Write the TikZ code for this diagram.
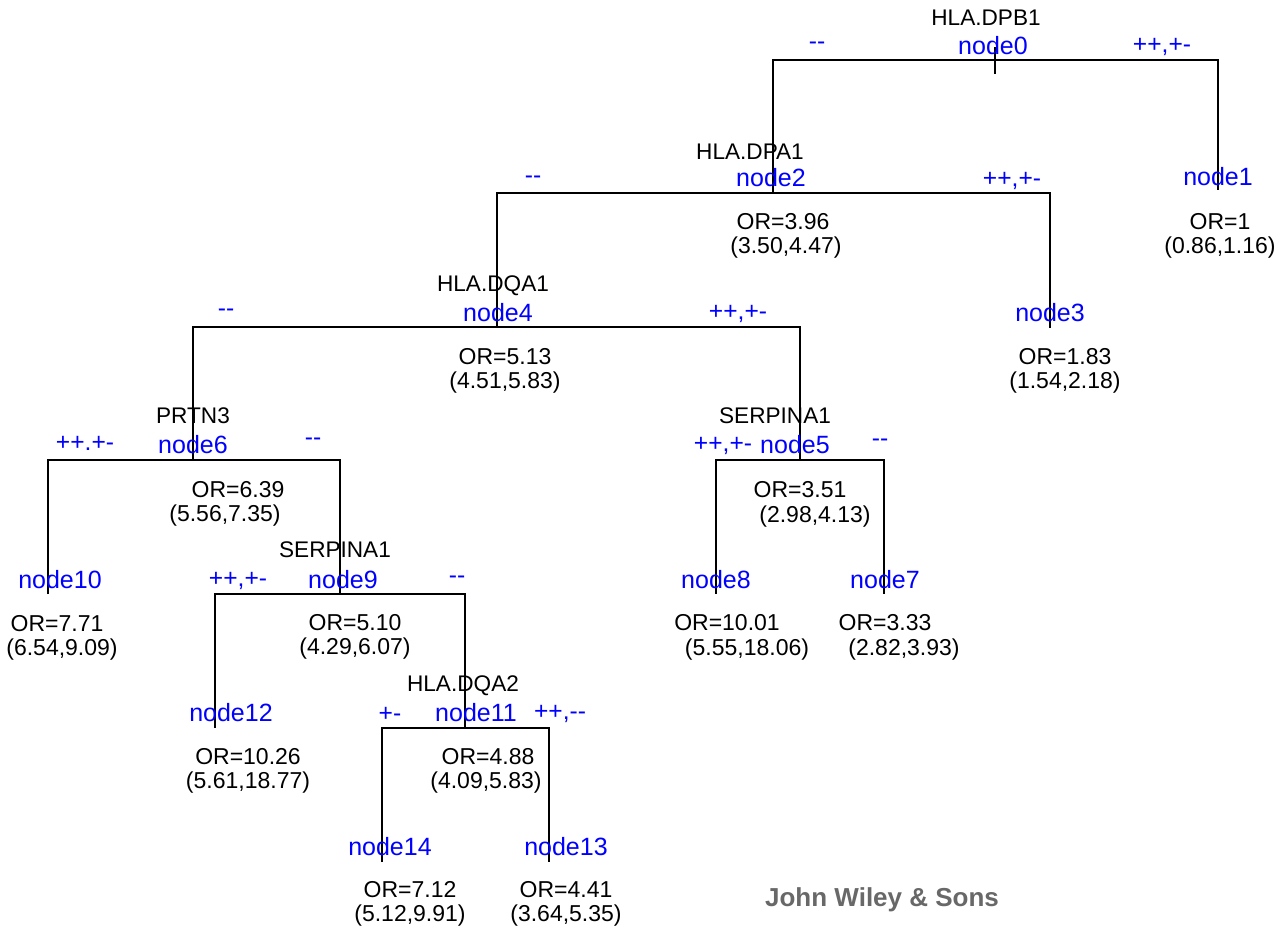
\documentclass[tikz,border=0pt]{standalone}
\usepackage{fontspec}
\setmainfont{Liberation Sans}
\definecolor{idblue}{RGB}{0,0,255}
\definecolor{wmgray}{RGB}{104,104,104}

\begin{document}
\begin{tikzpicture}[x=0.5pt,y=-0.5pt,line width=1pt,
		every node/.style={inner sep=0pt},
		var/.style={font=\fontsize{11.3}{13}\selectfont},
		nid/.style={text=idblue,font=\fontsize{12.5}{14}\selectfont},
		cut/.style={text=idblue,font=\fontsize{12.3}{14}\selectfont},
		orv/.style={font=\fontsize{11.5}{13}\selectfont}]
		\useasboundingbox (0,0) rectangle (1275,931);

		% split and leaf points of the tree
		\coordinate (c0) at (995,60);
		\coordinate (c1) at (1218,190);
		\coordinate (c2) at (773,193);
		\coordinate (c3) at (1050,328);
		\coordinate (c4) at (497,327);
		\coordinate (c5) at (800,460);
		\coordinate (c6) at (193,460);
		\coordinate (c7) at (884,594);
		\coordinate (c8) at (716,594);
		\coordinate (c9) at (340,594);
		\coordinate (c10) at (48,594);
		\coordinate (c11) at (465,728);
		\coordinate (c12) at (215,728);
		\coordinate (c13) at (549,862);
		\coordinate (c14) at (382,862);

		\draw (c0) ++(0,-13) -- ++(0,27);
		\draw (c2) |- (c0) -| (c1);
		\draw (c4) |- (c2) -| (c3);
		\draw (c6) |- (c4) -| (c5);
		\draw (c10) |- (c6) -| (c9);
		\draw (c12) |- (c9) -| (c11);
		\draw (c14) |- (c11) -| (c13);
		\draw (c8) |- (c5) -| (c7);

		% root
		\node[var] (v0) at (986,18) {HLA.DPB1};
		\node[nid] (id0) at (993,46) {node0};
		\node[cut] (l0) at (817,46) {-{}-};
		\node[cut] (r0) at (1162,47) {++,+-};

		\node[nid] (id1) at (1218,177) {node1};
		\node[orv] (or1) at (1220,222) {OR=1};
		\node[orv] (ci1) at (1220,248) {(0.86,1.16)};

		\node[var] (v2) at (750,152) {HLA.DPA1};
		\node[nid] (id2) at (771,178) {node2};
		\node[cut] (l2) at (533,180) {-{}-};
		\node[cut] (r2) at (1012,181) {++,+-};
		\node[orv] (or2) at (783,222) {OR=3.96};
		\node[orv] (ci2) at (786,248) {(3.50,4.47)};

		\node[nid] (id3) at (1050,313) {node3};
		\node[orv] (or3) at (1065,357) {OR=1.83};
		\node[orv] (ci3) at (1065,383) {(1.54,2.18)};

		\node[var] (v4) at (493,286) {HLA.DQA1};
		\node[nid] (id4) at (498,313) {node4};
		\node[cut] (l4) at (226,313) {-{}-};
		\node[cut] (r4) at (738,314) {++,+-};
		\node[orv] (or4) at (505,357) {OR=5.13};
		\node[orv] (ci4) at (505,383) {(4.51,5.83)};

		\node[var] (v6) at (193,416) {PRTN3};
		\node[nid] (id6) at (193,445) {node6};
		\node[cut] (l6) at (85,443) {++.+-};
		\node[cut] (r6) at (313,442) {-{}-};
		\node[orv] (or6) at (238,490) {OR=6.39};
		\node[orv] (ci6) at (225,516) {(5.56,7.35)};

		\node[nid] (id10) at (60,580) {node10};
		\node[orv] (or10) at (57,624) {OR=7.71};
		\node[orv] (ci10) at (62,650) {(6.54,9.09)};

		\node[var] (v9) at (335,550) {SERPINA1};
		\node[nid] (id9) at (343,580) {node9};
		\node[cut] (l9) at (238,581) {++,+-};
		\node[cut] (r9) at (457,580) {-{}-};
		\node[orv] (or9) at (355,623) {OR=5.10};
		\node[orv] (ci9) at (355,649) {(4.29,6.07)};

		\node[nid] (id12) at (231,713) {node12};
		\node[orv] (or12) at (248,757) {OR=10.26};
		\node[orv] (ci12) at (248,783) {(5.61,18.77)};

		\node[var] (v11) at (463,686) {HLA.DQA2};
		\node[nid] (id11) at (476,713) {node11};
		\node[cut] (l11) at (390,714) {+-};
		\node[cut] (r11) at (560,714) {++,-{}-};
		\node[orv] (or11) at (488,757) {OR=4.88};
		\node[orv] (ci11) at (486,783) {(4.09,5.83)};

		\node[nid] (id14) at (390,847) {node14};
		\node[orv] (or14) at (410,890) {OR=7.12};
		\node[orv] (ci14) at (410,916) {(5.12,9.91)};

		\node[nid] (id13) at (566,847) {node13};
		\node[orv] (or13) at (566,890) {OR=4.41};
		\node[orv] (ci13) at (566,916) {(3.64,5.35)};

		\node[var] (v5) at (775,416) {SERPINA1};
		\node[nid] (id5) at (795,445) {node5};
		\node[cut] (l5) at (723,446) {++,+-};
		\node[cut] (r5) at (880,443) {-{}-};
		\node[orv] (or5) at (800,490) {OR=3.51};
		\node[orv] (ci5) at (815,517) {(2.98,4.13)};

		\node[nid] (id8) at (716,580) {node8};
		\node[orv] (or8) at (727,623) {OR=10.01};
		\node[orv] (ci8) at (747,650) {(5.55,18.06)};

		\node[nid] (id7) at (885,580) {node7};
		\node[orv] (or7) at (885,623) {OR=3.33};
		\node[orv] (ci7) at (904,650) {(2.82,3.93)};

		\node[text=wmgray,font=\fontsize{13}{15}\selectfont\bfseries] (wm) at (882,900) {John Wiley \& Sons};
	\end{tikzpicture}
\end{document}
